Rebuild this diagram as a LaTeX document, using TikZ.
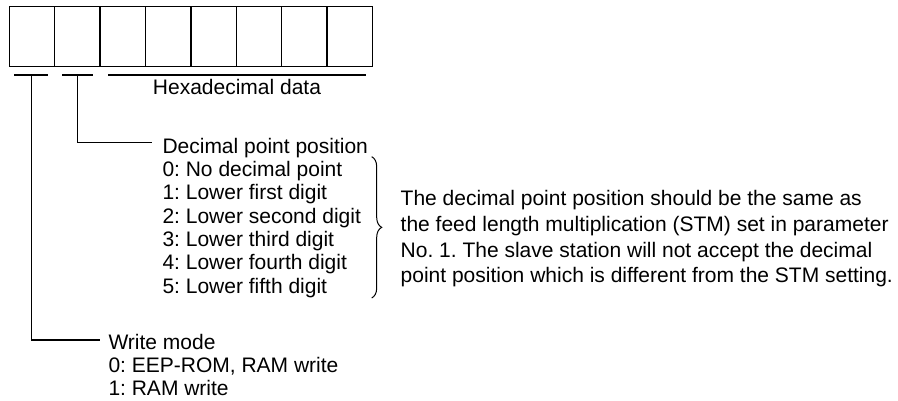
\documentclass[tikz,border=0pt]{standalone}
\usepackage{fontspec}
\setmainfont{Liberation Sans}
\usetikzlibrary{calc,decorations.pathreplacing}
\begin{document}
\frenchspacing
\begin{tikzpicture}[x=1pt,y=-1pt,
  cell/.style={draw=black, line width=1.5pt, inner sep=0pt, minimum width=45.4pt, minimum height=60pt},
  uline/.style={line width=2pt},
  conn/.style={line width=1.4pt},
  lbl/.style={anchor=base west, inner sep=0pt, font=\fontsize{21}{25}\selectfont},
  bracestyle/.style={line width=1pt, decorate, decoration={brace, amplitude=10pt}}]
\useasboundingbox (0,0) rectangle (898,401);
% register cells
\foreach \i in {1,...,8} {
  \node[cell] (c\i) at ({9.3+45.4*(\i-0.5)},36.7) {};
}
% underlines
\coordinate (u1a) at (14,75);   \coordinate (u1b) at (47.7,75);
\coordinate (u2a) at (62.3,75); \coordinate (u2b) at (92.7,75);
\coordinate (u3a) at (108.3,75);\coordinate (u3b) at (365.7,75);
\draw[uline] (u1a) -- (u1b);
\draw[uline] (u2a) -- (u2b);
\draw[uline] (u3a) -- (u3b);
\coordinate (t1) at (31.7,75);
\coordinate (t2) at (77.7,75);
% hexadecimal label
\node[lbl, anchor=base] (hex) at (237,95) {Hexadecimal data};
% decimal point list
\node[lbl] (dp0) at (162.3,153.3) {Decimal point position};
\node[lbl] (dp1) at (162.3,176.6) {0: No decimal point};
\node[lbl] (dp2) at (162.3,199.9) {1: Lower first digit};
\node[lbl] (dp3) at (162.3,223.2) {2: Lower second digit};
\node[lbl] (dp4) at (162.3,246.5) {3: Lower third digit};
\node[lbl] (dp5) at (162.3,269.8) {4: Lower fourth digit};
\node[lbl] (dp6) at (162.3,293.1) {5: Lower fifth digit};
\draw[conn] (t2) |- ($(dp0.base west)+(-10,-10.6)$);
% brace
\coordinate (bt) at (371.7,156.7);
\coordinate (bb) at (371.7,298);
\draw[bracestyle] (bt) -- (bb);
% note
\node[lbl] (n1) at (400.5,206) {The decimal point position should be the same as};
\node[lbl] (n2) at (400.5,231.7) {the feed length multiplication (STM) set in parameter};
\node[lbl] (n3) at (400.5,257.4) {No. 1. The slave station will not accept the decimal};
\node[lbl] (n4) at (400.5,283) {point position which is different from the STM setting.};
% write mode
\node[lbl] (wm0) at (108.3,349) {Write mode};
\node[lbl] (wm1) at (108.3,372.3) {0: EEP-ROM, RAM write};
\node[lbl] (wm2) at (108.3,395.6) {1: RAM write};
\draw[conn] (t1) |- ($(wm0.base west)+(-8.3,-9)$);
\end{tikzpicture}
\end{document}
